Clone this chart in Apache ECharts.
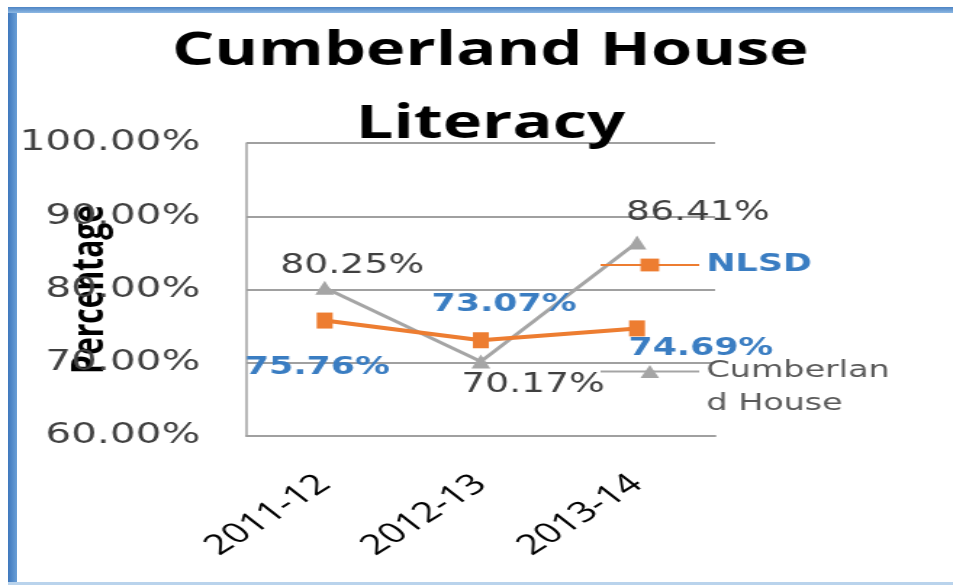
<!DOCTYPE html>
<html>
<head>
<meta charset="utf-8">
<script src="https://cdn.jsdelivr.net/npm/echarts@6/dist/echarts.min.js"></script>
<style>
  html, body { margin: 0; padding: 0; background: #fff; width: 953px; height: 587px; overflow: hidden; }
  #chart { position: absolute; left: 0; top: 0; width: 657px; height: 587px; transform: scaleX(1.4505); transform-origin: 0 0; }
  .bar { position: absolute; }
</style>
</head>
<body>
<div class="bar" style="left:8px;top:7px;width:9px;height:578px;background:linear-gradient(to right,#3f78bd,#6a9fd6);"></div>
<div class="bar" style="left:8px;top:7px;width:945px;height:6px;background:linear-gradient(to bottom,#4d84c4,#8db8e3);"></div>
<div class="bar" style="left:8px;top:582px;width:945px;height:3px;background:#b9d3ec;"></div>
<div id="chart"></div>
<script>
const titleText = 'Cumberland House\nLiteracy';
const categories = ['2011-12', '2012-13', '2013-14'];
const nlsdValues = [75.76, 73.07, 74.69];
const cumberlandValues = [80.25, 70.17, 86.41];
const yMin = 60, yMax = 100, yStep = 10;
const yAxisName = 'Percentage';

const chart = echarts.init(document.getElementById('chart'), null, { renderer: 'canvas' });
const pct = v => v.toFixed(2) + '%';

const nlsdLabelOffsets = [[-5, 47], [16, -35], [44, 20]];
const cumLabelOffsets = [[19, -21], [36, 24], [42, -29]];

const option = {
  animation: false,
  backgroundColor: 'transparent',
  title: {
    text: titleText,
    left: 338,
    top: 15,
    textAlign: 'center',
    padding: 0,
    textStyle: { fontFamily: 'Open Sans', fontWeight: 'bold', fontSize: 46, lineHeight: 73, color: '#000' }
  },
  grid: { left: 170, right: 164, top: 143, bottom: 151, outerBoundsMode: 'none', containLabel: false },
  legend: [
    {
      data: ['NLSD'],
      left: 413, top: 251, padding: 0,
      itemWidth: 68, itemHeight: 16,
      textStyle: { fontFamily: 'DejaVu Sans', fontWeight: 'bold', fontSize: 24, lineHeight: 28, color: '#3a7dc2' }
    },
    {
      data: ['Cumberland House'],
      left: 413, top: 322, padding: 0,
      itemWidth: 68, itemHeight: 16,
      formatter: n => n === 'Cumberland House' ? '\nCumberlan\nd House' : n,
      textStyle: { fontFamily: 'DejaVu Sans', fontSize: 23, lineHeight: 33, color: '#595959' }
    }
  ],
  xAxis: {
    type: 'category',
    data: categories,
    boundaryGap: true,
    axisLine: { show: true, lineStyle: { color: '#a0a0a0', width: 2 } },
    axisTick: { show: false },
    axisLabel: { interval: 0, rotate: 42, margin: 44, fontFamily: 'Open Sans', fontWeight: 500, fontSize: 28, color: '#000' },
    splitLine: { show: false }
  },
  yAxis: {
    type: 'value',
    min: yMin, max: yMax, interval: yStep,
    name: yAxisName,
    nameLocation: 'middle',
    nameRotate: 90,
    nameGap: 93,
    nameMoveOverlap: false,
    nameTextStyle: { fontFamily: 'Open Sans', fontWeight: 'bold', fontSize: 30, color: '#000' },
    axisLine: { show: true, lineStyle: { color: '#a0a0a0', width: 1.5 } },
    axisTick: { show: false },
    axisLabel: { margin: 32, fontFamily: 'DejaVu Sans', fontSize: 28, color: '#404040', formatter: v => pct(v) },
    splitLine: { show: true, lineStyle: { color: '#a0a0a0', width: 2 } }
  },
  series: [
    {
      name: 'NLSD',
      type: 'line',
      data: nlsdValues.map((v, i) => ({ value: v, label: { offset: nlsdLabelOffsets[i] } })),
      symbol: 'rect',
      symbolSize: [11, 16],
      itemStyle: { color: '#ed7d31' },
      lineStyle: { color: '#ed7d31', width: 4 },
      z: 3,
      label: {
        show: true, position: 'inside',
        fontFamily: 'DejaVu Sans', fontWeight: 'bold', fontSize: 24, color: '#3a7dc2',
        formatter: p => pct(p.value)
      }
    },
    {
      name: 'Cumberland House',
      type: 'line',
      data: cumberlandValues.map((v, i) => ({ value: v, label: { offset: cumLabelOffsets[i] } })),
      symbol: 'triangle',
      symbolSize: [13, 14],
      itemStyle: { color: '#a5a5a5' },
      lineStyle: { color: '#a5a5a5', width: 3 },
      z: 2,
      label: {
        show: true, position: 'inside',
        fontFamily: 'DejaVu Sans', fontSize: 26, color: '#404040',
        formatter: p => pct(p.value)
      }
    }
  ]
};
chart.setOption(option);
</script>
</body>
</html>
